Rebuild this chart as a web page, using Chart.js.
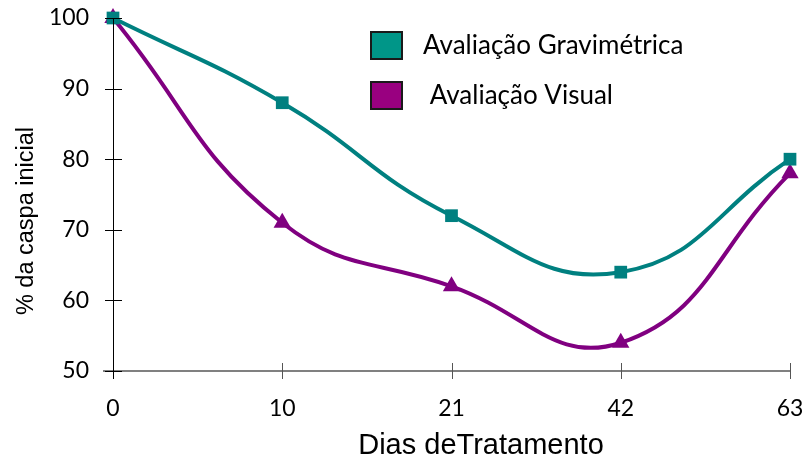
<!DOCTYPE html>
<html>
<head>
<meta charset="utf-8">
<script src="https://cdn.jsdelivr.net/npm/chart.js@4/dist/chart.umd.min.js"></script>
<style>
html,body{margin:0;padding:0;background:#fff;}
#wrap{width:807px;height:461px;position:relative;}
</style>
</head>
<body>
<div id="wrap"><canvas id="c" width="807" height="461"></canvas></div>
<script>
const categories = ['0', '10', '21', '42', '63'];
const gravimetrica = [100, 88, 72, 64, 80];
const visual = [100, 71, 62, 54, 78];
const yTicks = [50, 60, 70, 80, 90, 100];
const seriesNames = ['Avaliação Gravimétrica', ' Avaliação Visual'];
const xTitle = 'Dias deTratamento';
const yTitle = '% da caspa inicial';

const TEAL = '#008080';
const PURPLE = '#800080';

const crossTicks = {
  id: 'crossTicks',
  afterDraw(chart) {
    const ctx = chart.ctx;
    const x = chart.scales.x, y = chart.scales.y;
    const a = chart.chartArea;
    ctx.save();
    ctx.strokeStyle = '#808080';
    ctx.lineWidth = 2;
    ctx.beginPath();
    ctx.moveTo(a.left - 10, a.bottom);
    ctx.lineTo(a.right, a.bottom);
    ctx.stroke();
    ctx.strokeStyle = '#555';
    ctx.lineWidth = 1;
    x.ticks.forEach((t, i) => {
      const px = Math.round(x.getPixelForTick(i)) + 0.5;
      ctx.beginPath();
      ctx.moveTo(px, a.bottom - 8);
      ctx.lineTo(px, a.bottom + 8);
      ctx.stroke();
    });
    ctx.strokeStyle = '#000';
    ctx.lineWidth = 1;
    const lx = Math.round(a.left) + 0.5;
    ctx.beginPath();
    ctx.moveTo(lx, a.top);
    ctx.lineTo(lx, a.bottom + 8);
    ctx.stroke();
    y.ticks.forEach((t) => {
      const py = Math.round(y.getPixelForValue(t.value)) + 0.5;
      ctx.beginPath();
      ctx.moveTo(a.left - 8, py);
      ctx.lineTo(a.left + 9, py);
      ctx.stroke();
    });
    ctx.restore();
  }
};

const textLayer = {
  id: 'textLayer',
  afterDraw(chart) {
    const ctx = chart.ctx;
    const items = [
      {name: seriesNames[0], color: '#009688', y: 45},
      {name: seriesNames[1], color: '#990080', y: 95}
    ];
    ctx.save();
    items.forEach(it => {
      ctx.fillStyle = it.color;
      ctx.fillRect(371, it.y - 13, 31, 27);
      ctx.strokeStyle = '#1a1a1a';
      ctx.lineWidth = 2;
      ctx.strokeRect(371, it.y - 13, 31, 27);
      ctx.fillStyle = '#000';
      ctx.font = '26px Lato';
      ctx.textBaseline = 'middle';
      ctx.textAlign = 'left';
      ctx.fillText(it.name, 423, it.y + 1);
    });
    // axis titles
    ctx.fillStyle = '#000';
    ctx.textAlign = 'center';
    ctx.textBaseline = 'middle';
    ctx.font = '29px "Liberation Sans"';
    ctx.fillText(xTitle, 481, 446);
    ctx.translate(27, 221);
    ctx.rotate(-Math.PI / 2);
    ctx.font = '23.5px "Liberation Sans"';
    ctx.fillText(yTitle, 0, 0);
    ctx.restore();
  }
};

new Chart(document.getElementById('c'), {
  type: 'line',
  data: {
    labels: categories,
    datasets: [
      {
        label: seriesNames[0],
        data: gravimetrica,
        borderColor: TEAL,
        backgroundColor: TEAL,
        borderWidth: 4,
        tension: 0.45,
        pointStyle: 'rect',
        pointRadius: 9,
        pointBorderWidth: 0,
        clip: false
      },
      {
        label: seriesNames[1],
        data: visual,
        borderColor: PURPLE,
        backgroundColor: PURPLE,
        borderWidth: 4,
        tension: 0.45,
        pointStyle: 'triangle',
        pointRadius: 10,
        pointBorderWidth: 0,
        clip: false
      }
    ]
  },
  options: {
    responsive: false,
    animation: false,
    devicePixelRatio: 1,
    layout: {padding: {top: 18, right: 17, left: 0, bottom: 0}},
    plugins: {legend: {display: false}, tooltip: {enabled: false}},
    scales: {
      x: {
        type: 'category',
        offset: false,
        grid: {display: false, drawTicks: false},
        border: {display: false},
        ticks: {
          color: '#000',
          font: {family: 'Lato', size: 23},
          padding: 24,
          maxRotation: 0
        },
        afterFit(s) { s.height = 90; s.paddingLeft = 0; s.paddingRight = 0; }
      },
      y: {
        min: 50,
        max: 100,
        afterBuildTicks(s) { s.ticks = yTicks.map(v => ({value: v})); },
        grid: {display: false, drawTicks: false},
        border: {display: false},
        ticks: {
          color: '#000',
          font: {family: 'Lato', size: 23},
          padding: 24
        },
        afterFit(s) { s.width = 113; s.paddingTop = 0; s.paddingBottom = 0; }
      }
    }
  },
  plugins: [crossTicks, textLayer]
});
</script>
</body>
</html>
